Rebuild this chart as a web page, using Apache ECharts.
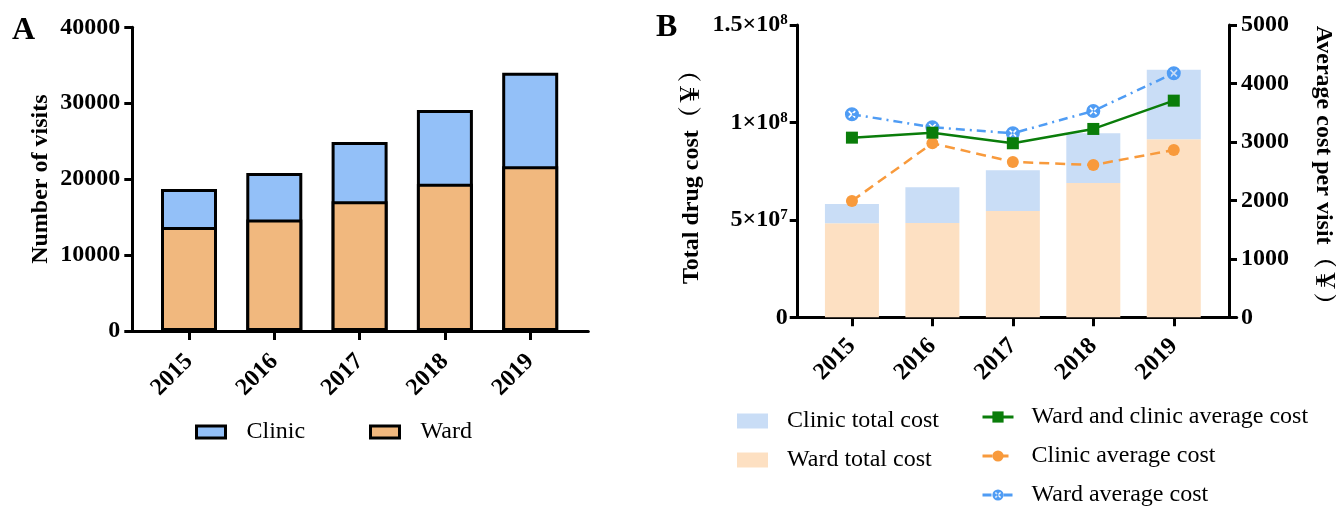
<!DOCTYPE html>
<html><head><meta charset="utf-8">
<script src="https://cdn.jsdelivr.net/npm/echarts@6/dist/echarts.min.js"></script>
<style>html,body{margin:0;padding:0;background:#fff}#c{width:1336px;height:506px}</style>
</head><body><div id="c"></div>
<script>
// ---- data ----
const years = ['2015', '2016', '2017', '2018', '2019'];
const visitsWard = [13700, 14700, 17100, 19400, 21700];
const visitsClinic = [5000, 6100, 7800, 9700, 12300];
const costWard = [48.2e6, 48.4e6, 54.6e6, 68.9e6, 91.4e6];
const costClinic = [10.0e6, 18.3e6, 20.9e6, 25.6e6, 35.6e6];
const avgAll = [3073, 3158, 2977, 3222, 3706];
const avgClinic = [1990, 2977, 2657, 2606, 2862];
const avgWard = [3473, 3251, 3148, 3530, 4175];
const visitTicks = [0, 10000, 20000, 30000, 40000];
const costTicks = [0, 5e7, 1e8, 1.5e8];
const avgTicks = [0, 1000, 2000, 3000, 4000, 5000];

// clinic segment sits on top of ward: its bar reaches ward + clinic
const visitsTop = visitsWard.map((w, i) => w + visitsClinic[i]);

const SERIF = '"Liberation Serif", "Times New Roman", "Noto Serif CJK SC", "Noto Sans CJK SC", serif';
const BLACK = '#000';
const lbl = { fontFamily: SERIF, fontSize: 24, fontWeight: 'bold', color: BLACK };
const axLine = { show: true, lineStyle: { color: BLACK, width: 3 } };
const tick = (len) => ({ show: true, length: len, lineStyle: { color: BLACK, width: 3 } });

const markerX = 'path://M10,0 A10,10 0 1,0 10,20 A10,10 0 1,0 10,0 Z ' +
  'M15.445,6.252 L11.697,10 L15.445,13.748 L13.748,15.445 L10,11.697 L6.252,15.445 ' +
  'L4.555,13.748 L8.303,10 L4.555,6.252 L6.252,4.555 L10,8.303 L13.748,4.555 Z';

function sci(v) {
  if (v === 0) return '0';
  const e = Math.floor(Math.log10(v) + 1e-9);
  const m = +(v / Math.pow(10, e)).toFixed(2);
  return '{m|' + m + '×10}{s|' + e + '}';
}

const decoX = (gi) => ({
  gridIndex: gi, type: 'value', min: 0, max: 1, axisLine: axLine,
  axisTick: { show: false }, axisLabel: { show: false }, splitLine: { show: false }
});
const decoY = (gi) => ({ gridIndex: gi, type: 'value', show: false, splitLine: { show: false } });
const catX = (gi, margin) => ({
  gridIndex: gi, type: 'category', data: years, boundaryGap: true,
  axisLine: { show: false }, axisTick: Object.assign(tick(9), { alignWithLabel: true }),
  axisLabel: Object.assign({ rotate: 45, margin: margin, interval: 0, padding: [12, 0, 0, 0] }, lbl),
  splitLine: { show: false }
});

const legText = (pad) => ({ fontFamily: SERIF, fontSize: 24, color: BLACK, lineHeight: 24, padding: [0, 0, 0, pad] });
const legendBase = (name, left, top, extra) => Object.assign({
  data: [name], left: left, top: top, padding: 0, selectedMode: false,
  itemWidth: 31, itemHeight: 14, textStyle: legText(14)
}, extra || {});

const option = {
  animation: false,
  backgroundColor: '#fff',
  title: [
    { text: 'A', left: 12, top: 15, padding: 0, textStyle: { fontFamily: SERIF, fontSize: 32, fontWeight: 'bold', color: BLACK } },
    { text: 'B', left: 656, top: 12, padding: 0, textStyle: { fontFamily: SERIF, fontSize: 32, fontWeight: 'bold', color: BLACK } }
  ],
  grid: [
    { left: 132.3, top: 27.3, width: 456, height: 303.7 },
    { left: 146.35, top: 27.3, width: 426.5, height: 303.7 },
    { left: 797.7, top: 25, width: 439, height: 292.3 },
    { left: 811.7, top: 25, width: 410, height: 292.3 }
  ],
  xAxis: [decoX(0), catX(1, 27), decoX(2), catX(3, 25)],
  yAxis: [
    decoY(0),
    {
      gridIndex: 1, type: 'value', position: 'left', offset: 14.05,
      min: visitTicks[0], max: visitTicks[visitTicks.length - 1], interval: visitTicks[1] - visitTicks[0],
      axisLine: axLine, axisTick: tick(8),
      axisLabel: Object.assign({ margin: 12, formatter: (v) => String(v) }, lbl),
      splitLine: { show: false },
      name: 'Number of visits', nameLocation: 'middle', nameRotate: 90, nameGap: 80,
      nameTextStyle: lbl
    },
    decoY(2),
    {
      gridIndex: 3, type: 'value', position: 'left', offset: 14,
      min: costTicks[0], max: costTicks[costTicks.length - 1], interval: costTicks[1] - costTicks[0],
      axisLine: axLine, axisTick: tick(8),
      axisLabel: {
        margin: 10, formatter: sci,
        rich: {
          m: { fontFamily: SERIF, fontSize: 24, fontWeight: 'bold', color: BLACK },
          s: { fontFamily: SERIF, fontSize: 15, fontWeight: 'bold', color: BLACK, verticalAlign: 'top' }
        },
        fontFamily: SERIF, fontSize: 24, fontWeight: 'bold', color: BLACK
      },
      splitLine: { show: false },
      name: 'Total drug cost（￥）', nameLocation: 'middle', nameRotate: 90, nameGap: 94,
      nameTextStyle: lbl
    },
    {
      gridIndex: 3, type: 'value', position: 'right', offset: 15,
      min: avgTicks[0], max: avgTicks[avgTicks.length - 1], interval: avgTicks[1] - avgTicks[0],
      axisLine: axLine, axisTick: tick(8),
      axisLabel: Object.assign({ margin: 12, formatter: (v) => String(v) }, lbl),
      splitLine: { show: false },
      name: 'Average cost per visit（￥）', nameLocation: 'middle', nameRotate: -90, nameGap: 82,
      nameTextStyle: lbl
    }
  ],
  legend: [
    legendBase('Clinic', 195, 420, { icon: 'rect', itemWidth: 29, itemHeight: 12, itemStyle: { borderColor: BLACK, borderWidth: 3 }, textStyle: legText(16) }),
    legendBase('Ward', 369, 420, { icon: 'rect', itemWidth: 29, itemHeight: 12, itemStyle: { borderColor: BLACK, borderWidth: 3 }, textStyle: legText(16) }),
    legendBase('Clinic total cost', 737, 409, { icon: 'rect', itemHeight: 15 }),
    legendBase('Ward total cost', 737, 448, { icon: 'rect', itemHeight: 15 }),
    legendBase('Ward and clinic average cost', 981, 405, { textStyle: legText(13), lineStyle: { width: 3 } }),
    legendBase('Clinic average cost', 981, 444, { textStyle: legText(13), lineStyle: { width: 3 } }),
    legendBase('Ward average cost', 981, 483, { textStyle: legText(13), lineStyle: { width: 3 } })
  ],
  series: [
    {
      name: 'Clinic', type: 'bar', xAxisIndex: 1, yAxisIndex: 1, data: visitsTop,
      barWidth: 56, barGap: '-100%', itemStyle: { color: '#93c0f8', borderColor: BLACK, borderWidth: 3 }
    },
    {
      name: 'Ward', type: 'bar', xAxisIndex: 1, yAxisIndex: 1, data: visitsWard,
      barWidth: 56, barGap: '-100%', itemStyle: { color: '#f1b87e', borderColor: BLACK, borderWidth: 3 }
    },
    {
      name: 'Ward total cost', type: 'bar', stack: 'cost', xAxisIndex: 3, yAxisIndex: 3, data: costWard,
      barWidth: 54, itemStyle: { color: '#fde0c2' }
    },
    {
      name: 'Clinic total cost', type: 'bar', stack: 'cost', xAxisIndex: 3, yAxisIndex: 3, data: costClinic,
      barWidth: 54, itemStyle: { color: '#c9ddf6' }
    },
    {
      name: 'Clinic average cost', type: 'line', xAxisIndex: 3, yAxisIndex: 4, data: avgClinic, z: 3,
      symbol: 'circle', symbolSize: 12, showSymbol: true,
      lineStyle: { color: '#f89a3c', width: 2.5, type: [10, 6] }, itemStyle: { color: '#f89a3c' }
    },
    {
      name: 'Ward average cost', type: 'line', xAxisIndex: 3, yAxisIndex: 4, data: avgWard, z: 4,
      symbol: markerX, symbolSize: 14, showSymbol: true,
      lineStyle: { color: '#4f9cf4', width: 2.5, type: [9, 5, 2, 5] }, itemStyle: { color: '#4f9cf4' }
    },
    {
      name: 'Ward and clinic average cost', type: 'line', xAxisIndex: 3, yAxisIndex: 4, data: avgAll, z: 5,
      symbol: 'rect', symbolSize: 12, showSymbol: true,
      lineStyle: { color: '#0a7d0a', width: 2.5 }, itemStyle: { color: '#0a7d0a' }
    }
  ]
};
const chart = echarts.init(document.getElementById('c'), null, { renderer: 'canvas' });
chart.setOption(option);
</script>
</body></html>
